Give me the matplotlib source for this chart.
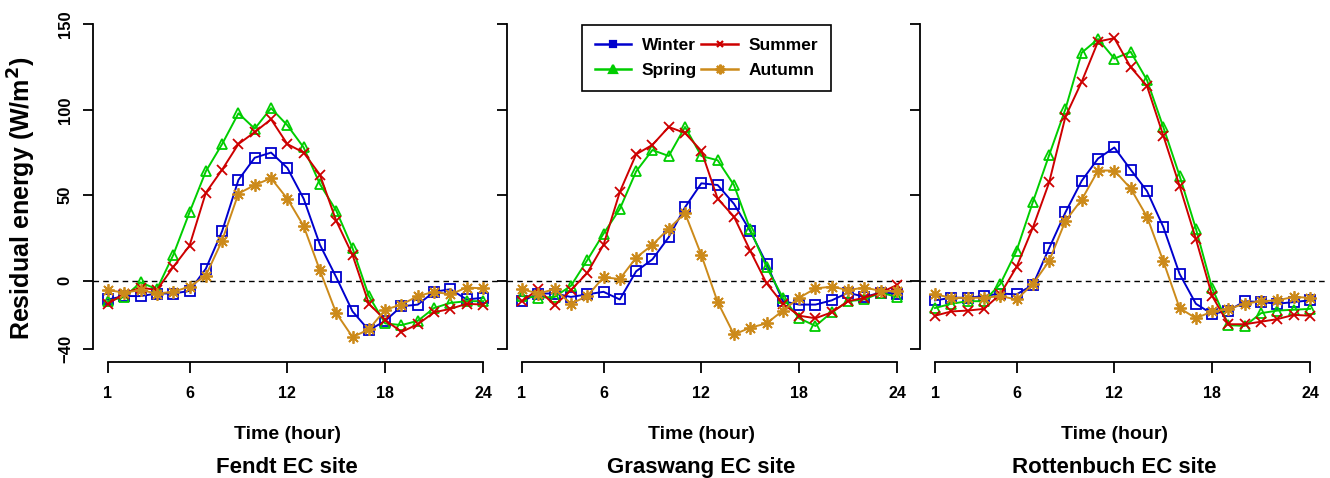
import numpy as np
import matplotlib.pyplot as plt
from matplotlib.lines import Line2D

plt.rcParams['font.family'] = ['Liberation Sans', 'DejaVu Sans']
plt.rcParams['font.weight'] = 'bold'

hours = np.arange(1, 25)
sites = ["Fendt EC site", "Graswang EC site", "Rottenbuch EC site"]
seasons = ["Winter", "Spring", "Summer", "Autumn"]

# Fendt
fendt_winter = [-11, -9, -9, -7.5, -7.5, -6, 7, 29, 59, 72, 75, 66, 48, 21, 2, -18, -29, -23.5, -15, -14, -6.5, -5, -11, -10]
fendt_spring = [-12, -9.5, -1, -5, 15, 40, 64, 80, 98, 89, 101, 91, 78, 56.5, 41, 19, -9, -25, -26, -23.5, -16, -13, -12, -12]
fendt_summer = [-13.5, -7.5, -4, -5.5, 8, 20.5, 51.5, 65, 80, 87, 94.5, 80, 75, 62, 35, 15, -13.5, -23, -30, -25.5, -18.5, -16.5, -13.5, -14]
fendt_autumn = [-5.5, -7, -5.5, -7.5, -6.5, -3.5, 3, 23.5, 51, 56, 60, 48, 32, 6, -19, -33, -28.5, -17, -14, -9, -6.5, -8, -4, -4.5]

# Graswang
gras_winter = [-12, -7.5, -7.5, -9.5, -8, -6.5, -11, 5.5, 12.5, 25.5, 43, 57, 56, 45, 29, 10, -12, -14, -14, -11.5, -7, -9.5, -7, -7.5]
gras_spring = [-9, -10, -9.5, -3, 12, 27.5, 42, 64, 76.5, 73, 90, 73, 70.5, 56, 30, 8, -10, -22, -26.5, -18.5, -12, -11, -7, -9.5]
gras_summer = [-12, -5, -14.5, -5.5, 4.5, 21, 52, 74, 79.5, 90, 86.5, 76, 48, 37.5, 17.5, -1.5, -13.5, -20.5, -22, -18.5, -12, -10, -7, -2.5]
gras_autumn = [-5, -7.5, -5, -13.5, -9, 2, 1, 13.5, 21, 30.5, 39.5, 15, -12.5, -31.5, -27.5, -25, -17.5, -10, -4.5, -3.5, -5.5, -4, -6, -6]

# Rottenbuch
rott_winter = [-11.5, -10, -10, -9, -7.5, -8, -2.5, 19, 40, 58.5, 71.5, 78, 65, 52.5, 31.5, 4, -13.5, -19.5, -17.5, -12, -12.5, -13.5, -12.5, -11.5]
rott_spring = [-16, -13.5, -12, -12, -2, 17.5, 46, 73.5, 100.5, 133.5, 141.5, 130, 134, 117.5, 90, 61.5, 30.5, -4.5, -26, -26.5, -19, -17.5, -17, -16.5]
rott_summer = [-20.5, -18, -17.5, -16.5, -8, 8, 31, 57.5, 96, 116.5, 140, 142, 125, 114, 85, 55.5, 24.5, -9, -25.5, -25.5, -24, -22.5, -20, -20.5]
rott_autumn = [-8, -10, -10, -10, -9, -11, -2, 11.5, 35, 47.5, 64.5, 64.5, 54, 37.5, 11.5, -16, -22, -18, -16.5, -13.5, -12, -11.5, -9.5, -10]

data = [
    [fendt_winter, fendt_spring, fendt_summer, fendt_autumn],
    [gras_winter, gras_spring, gras_summer, gras_autumn],
    [rott_winter, rott_spring, rott_summer, rott_autumn],
]

colors = ["#0000CD", "#00CD00", "#CD0000", "#CC8A1A"]
markers = ["s", "^", "x", (8, 2, 0)]
msizes = [6.5, 7, 6.5, 9]

W, H = 1330, 478
fig = plt.figure(figsize=(W / 100, H / 100), dpi=100)

lefts = [93, 507, 920]
ax_w = 405
top_px, bot_px = 11.5, 362

axes = []
for k in range(3):
    ax = fig.add_axes([lefts[k] / W, (H - bot_px) / H, ax_w / W, (bot_px - top_px) / H])
    axes.append(ax)
    ax.axhline(0, color="black", linestyle=(0, (4, 3)), linewidth=1.0, zorder=1)
    for s in range(4):
        ax.plot(hours, data[k][s], color=colors[s], marker=markers[s], markersize=msizes[s],
                markerfacecolor="none", markeredgewidth=1.3, linewidth=1.4, zorder=3)
    ax.set_xlim(0.08, 24.92)
    ax.set_ylim(-47.6, 157.6)
    for sp in ["top", "right"]:
        ax.spines[sp].set_visible(False)
    ax.spines["left"].set_bounds(-40, 150)
    ax.spines["bottom"].set_bounds(1, 24)
    ax.spines["left"].set_linewidth(1.3)
    ax.spines["bottom"].set_linewidth(1.3)
    ax.set_yticks([-40, 0, 50, 100, 150])
    ax.set_xticks([1, 6, 12, 18, 24])
    ax.tick_params(axis="y", direction="out", length=7.5, width=1.3, pad=7)
    ax.tick_params(axis="x", direction="out", length=8, width=1.3, pad=9, labelsize=11.5)
    if k == 0:
        ax.set_yticklabels(["\u221240", "0", "50", "100", "150"], rotation=90,
                           va="center", fontsize=12, fontweight="bold")
    else:
        ax.set_yticklabels([])
    for lab in ax.get_xticklabels():
        lab.set_fontweight("bold")
    ax.text(12, -90, "Time (hour)", ha="center", va="center", fontsize=14,
            fontweight="bold", transform=ax.transData, clip_on=False)
    ax.text(12, -109.5, sites[k], ha="center", va="center", fontsize=16,
            fontweight="bold", transform=ax.transData, clip_on=False)

fig.text(22 / W, 1 - 198 / H, "Residual energy (W/m$^\\mathbf{2}$)", rotation=90,
         ha="center", va="center", fontsize=18, fontweight="bold")

handles = [Line2D([0], [0], color=colors[s], marker=["s", "^", "x", (8, 2, 0)][s],
                  markersize=[5, 6, 5, 7][s], markeredgewidth=1.6, linewidth=1.8)
           for s in range(4)]
leg = axes[1].legend(handles, seasons, ncol=2, loc="upper center",
                     bbox_to_anchor=(0.4926, 0.9615), fancybox=False, edgecolor="black",
                     framealpha=1, prop={"weight": "bold", "size": 12.5},
                     handlelength=2.1, columnspacing=0.25, handletextpad=0.6,
                     borderpad=0.75, labelspacing=0.55, borderaxespad=0)
leg.get_frame().set_linewidth(1.2)

fig.savefig("out.png", dpi=100)
